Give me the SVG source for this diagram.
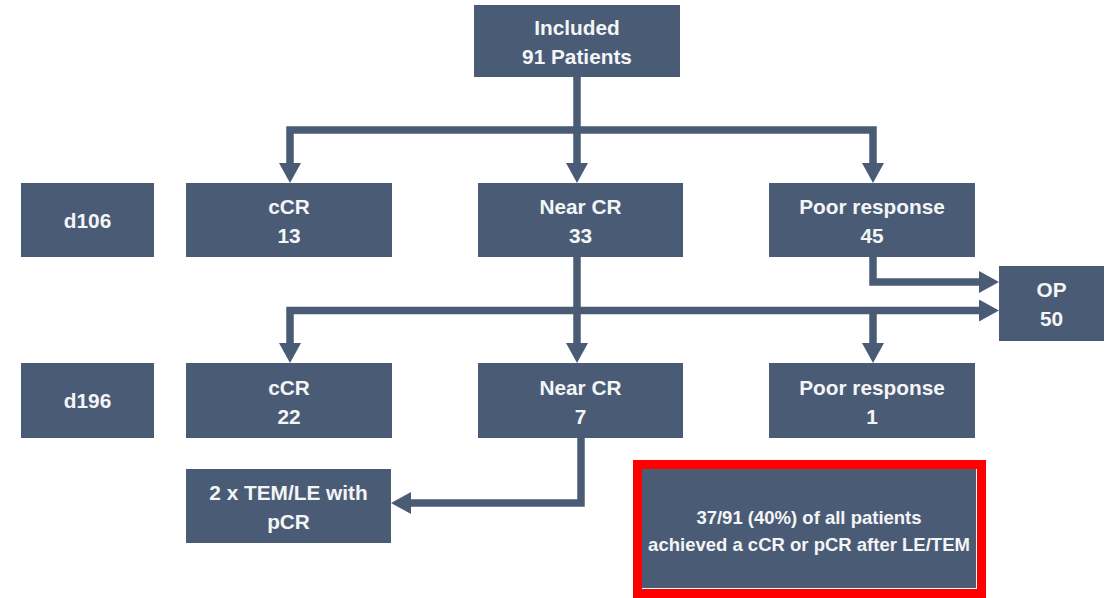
<svg xmlns="http://www.w3.org/2000/svg" width="1110" height="598" viewBox="0 0 1110 598">
  <style>
    .box { fill: #4a5c75; }
    .t { font-family: "Liberation Sans", Arial, sans-serif; font-weight: bold; font-size: 20.8px; fill: #f4f5f7; text-anchor: middle; }
    .s { font-size: 18.5px; }
    .c { fill: none; stroke: #4a5c75; stroke-width: 7.5; stroke-linejoin: miter; }
  </style>
  <defs>
    <marker id="ah" markerUnits="userSpaceOnUse" markerWidth="20" markerHeight="22" refX="0" refY="11" orient="auto">
      <path d="M0,0 L20,11 L0,22 Z" fill="#4a5c75"/>
    </marker>
  </defs>
  <rect width="1110" height="598" fill="#ffffff"/>

  <g id="connectors">
    <path class="c" d="M577,77 V163" marker-end="url(#ah)"/>
    <path class="c" d="M577,130 H290 V163" marker-end="url(#ah)"/>
    <path class="c" d="M577,130 H873 V163" marker-end="url(#ah)"/>
    <path class="c" d="M577,257 V343" marker-end="url(#ah)"/>
    <path class="c" d="M577,310.5 H290 V343" marker-end="url(#ah)"/>
    <path class="c" d="M577,310.5 H979" marker-end="url(#ah)"/>
    <path class="c" d="M873,310.5 V343" marker-end="url(#ah)"/>
    <path class="c" d="M873,257 V282 H979" marker-end="url(#ah)"/>
    <path class="c" d="M581,438 V503 H411" marker-end="url(#ah)"/>
  </g>

  <g id="included">
    <rect class="box" x="474" y="5" width="206" height="72"/>
    <text class="t" x="577" y="35">Included</text>
    <text class="t" x="577" y="64">91 Patients</text>
  </g>

  <g id="d106">
    <rect class="box" x="21" y="183" width="133" height="74"/>
    <text class="t" x="87.5" y="228">d106</text>
  </g>
  <g id="ccr13">
    <rect class="box" x="186" y="183" width="206" height="74"/>
    <text class="t" x="289" y="214">cCR</text>
    <text class="t" x="289" y="243">13</text>
  </g>
  <g id="nearcr33">
    <rect class="box" x="478" y="183" width="205" height="74"/>
    <text class="t" x="580.5" y="214">Near CR</text>
    <text class="t" x="580.5" y="243">33</text>
  </g>
  <g id="poor45">
    <rect class="box" x="769" y="183" width="206" height="74"/>
    <text class="t" x="872" y="214">Poor response</text>
    <text class="t" x="872" y="243">45</text>
  </g>

  <g id="op50">
    <rect class="box" x="999" y="266" width="105" height="75"/>
    <text class="t" x="1051.5" y="297">OP</text>
    <text class="t" x="1051.5" y="326">50</text>
  </g>

  <g id="d196">
    <rect class="box" x="21" y="363" width="133" height="75"/>
    <text class="t" x="87.5" y="408">d196</text>
  </g>
  <g id="ccr22">
    <rect class="box" x="186" y="363" width="206" height="75"/>
    <text class="t" x="289" y="395">cCR</text>
    <text class="t" x="289" y="424">22</text>
  </g>
  <g id="nearcr7">
    <rect class="box" x="478" y="363" width="205" height="75"/>
    <text class="t" x="580.5" y="395">Near CR</text>
    <text class="t" x="580.5" y="424">7</text>
  </g>
  <g id="poor1">
    <rect class="box" x="769" y="363" width="206" height="75"/>
    <text class="t" x="872" y="395">Poor response</text>
    <text class="t" x="872" y="424">1</text>
  </g>

  <g id="tem">
    <rect class="box" x="186" y="469" width="205" height="74"/>
    <text class="t" x="288.5" y="500">2 x TEM/LE with</text>
    <text class="t" x="288.5" y="529">pCR</text>
  </g>

  <g id="summary">
    <rect class="box" x="642" y="469" width="334" height="119"/>
    <rect x="637.5" y="464.5" width="344" height="129" fill="none" stroke="#ff0000" stroke-width="9"/>
    <text class="t s" x="809" y="524">37/91 (40%) of all patients</text>
    <text class="t s" x="809" y="551">achieved a cCR or pCR after LE/TEM</text>
  </g>
</svg>
